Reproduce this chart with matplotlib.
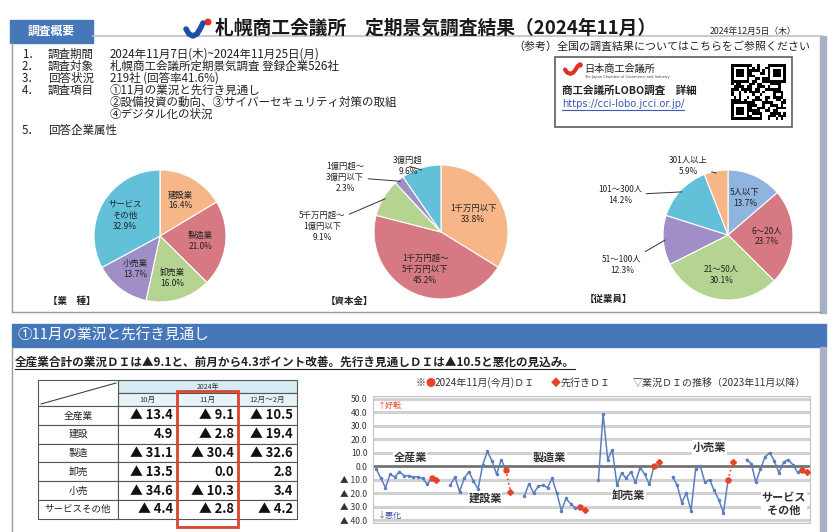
import numpy as np
import matplotlib
matplotlib.use('Agg')
import matplotlib.pyplot as plt
from matplotlib.patches import Rectangle, Circle

plt.rcParams['font.family'] = ['Noto Sans CJK JP', 'DejaVu Sans']

W, H = 834, 532

# ---------------- data ----------------
industry_labels = ['建設業', '製造業', '卸売業', '小売業', 'サービス\nその他']
industry_share = [16.4, 21.0, 16.0, 13.7, 32.9]
capital_labels = ['1千万円以下', '1千万円超～\n5千万円以下', '5千万円超～\n1億円以下', '1億円超～\n3億円以下', '3億円超']
capital_share = [33.8, 45.2, 9.1, 2.3, 9.6]
employee_labels = ['5人以下', '6～20人', '21～50人', '51～100人', '101～300人', '301人以上']
employee_share = [13.7, 23.7, 30.1, 12.3, 14.2, 5.9]

table_rows = ['全産業', '建設', '製造', '卸売', '小売', 'サービスその他']
table_cols = ['10月', '11月', '12月～2月']
di_oct = [-13.4, 4.9, -31.1, -13.5, -34.6, -4.4]
di_nov = [-9.1, -2.8, -30.4, 0.0, -10.3, -2.8]
di_outlook = [-10.5, -19.4, -32.6, 2.8, 3.4, -4.2]

chart_groups = ['全産業', '建設業', '製造業', '卸売業', '小売業', 'サービス\nその他']
# business DI, 2023/11 .. 2024/9 (then Oct / Nov from the table)
hist_all = [-2, -9, -16, -6, -8, -4, -7, -7, -8, -8, -9]
hist_con = [-14, -8, -19, -9, -4, -11, -17, 1, 11, 4, -6]
hist_man = [-22, -13, -20, -15, -14, -16, -9, -20, -33, -24, -28]
hist_whl = [-10, 39, 5, 12, -14, -5, -9, -4, -12, -1, -6]
hist_ret = [-8, -14, -27, -20, -33, -2, 0, -12, -10, -18, -25]
hist_srv = [5, 2, -12, -2, 7, 10, 4, -5, 3, 5, 1]
hist_series = [hist_all, hist_con, hist_man, hist_whl, hist_ret, hist_srv]
y_ticks = [50, 40, 30, 20, 10, 0, -10, -20, -30, -40]

# ---------------- colours ----------------
C_OR, C_RD, C_GR, C_PU, C_CY, C_LB = '#f6b688', '#d67983', '#b5d491', '#9f8fc6', '#62c1d8', '#8fb4e0'
BLUE_BAND = '#4677b8'
RED = '#e8412b'

fig = plt.figure(figsize=(W / 100, H / 100), dpi=100)
fig.patch.set_facecolor('white')
bg = fig.add_axes([0, 0, 1, 1])
bg.set_xlim(0, W)
bg.set_ylim(H, 0)
bg.axis('off')


def T(x, y, s, size=8, ha='left', va='center', **kw):
    return bg.text(x, y, s, fontsize=size, ha=ha, va=va, **kw)


# ---------------- header / section 1 frame ----------------
bg.add_patch(Rectangle((10, 20), 83, 23, color=BLUE_BAND))
T(51.5, 31.5, '調査概要', 8.5, ha='center', color='white', weight='bold')
bg.plot([93, 821], [36, 36], color='#b9c2d3', lw=1.2)
bg.plot([12, 12], [43, 312], color='#9a9a9a', lw=1)
bg.plot([12, 821], [312, 312], color='#9a9a9a', lw=1)
bg.add_patch(Rectangle((820, 36), 6, 277, color='#a7afc2'))

# title logo
lx = np.array([186, 189, 193, 197, 200, 203])
ly = np.array([29, 34, 36, 34, 29, 23])
bg.plot(lx, ly, color='#1f4fa0', lw=4, solid_capstyle='round')
bg.add_patch(Circle((208, 22), 2.8, color='#e03020'))
T(215, 28, '札幌商工会議所　定期景気調査結果（2024年11月）', 13.5, weight='bold', color='#1a1a1a')
T(710, 31, '2024年12月5日（木）', 6.3, color='#222222')

# survey outline
items = [
    ('1．', '調査期間', '2024年11月7日(木)~2024年11月25日(月)'),
    ('2．', '調査対象', '札幌商工会議所定期景気調査 登録企業526社'),
    ('3．', '回答状況', '219社 (回答率41.6%)'),
    ('4．', '調査項目', '①11月の業況と先行き見通し'),
    ('', '', '②設備投資の動向、③サイバーセキュリティ対策の取組'),
    ('', '', '④デジタル化の状況'),
]
ys = [54, 66, 78, 90, 102, 114]
for (n, lab, val), y in zip(items, ys):
    if n:
        T(22, y, n, 8.3, color='#222')
        T(48, y, lab, 8.3, color='#222')
    T(110, y, val, 8.3, color='#222')
T(22, 130, '5．', 8.3, color='#222')
T(48, 130, '回答企業属性', 8.3, color='#222')

# reference box
T(513, 47, '（参考）全国の調査結果についてはこちらをご参照ください', 7.9, color='#222')
bg.add_patch(Rectangle((555, 57), 237, 70, fill=False, ec='#6a6a6a', lw=1.3))
bg.plot((lx - 186) * 0.75 + 565, (ly - 23) * 0.6 + 66, color='#e03020', lw=3, solid_capstyle='round')
bg.add_patch(Circle((580, 65), 2.0, color='#e03020'))
T(584, 69, '日本商工会議所', 7.3, color='#222')
T(584, 77, 'The Japan Chamber of Commerce and Industry', 2.6, color='#444', family='DejaVu Sans')
T(562, 91, '商工会議所LOBO調査　詳細', 7.6, weight='bold', color='#222')
url_t = T(562, 104, 'https://cci-lobo.jcci.or.jp/', 7.2, color='#3b5bb5', family='DejaVu Sans')

# QR-like code derived deterministically from the URL text
url = 'https://cci-lobo.jcci.or.jp/'
seq = np.frombuffer((url * 3).encode(), dtype=np.uint8)
bits = np.unpackbits(seq)[:441].reshape(21, 21)
ii, jj = np.indices((21, 21))
qr = bits ^ ((ii + jj) % 2).astype(np.uint8)
for (r0, c0) in [(0, 0), (0, 14), (14, 0)]:
    qr[r0:r0 + 7, c0:c0 + 7] = 1
    qr[r0 + 1:r0 + 6, c0 + 1:c0 + 6] = 0
    qr[r0 + 2:r0 + 5, c0 + 2:c0 + 5] = 1
bg.imshow(qr, cmap='gray_r', extent=(731, 786, 120, 64), interpolation='nearest', aspect='auto', zorder=2)
bg.set_xlim(0, W)
bg.set_ylim(H, 0)


# ---------------- pies ----------------
def pie_axes(cx, cy, r):
    return fig.add_axes([(cx - r) / W, 1 - (cy + r) / H, 2 * r / W, 2 * r / H])


def draw_pie(cx, cy, r, vals, labels, colors, inside, outside):
    ax = pie_axes(cx, cy, r)
    wedges, _ = ax.pie(vals, colors=colors, startangle=90, counterclock=False,
                       wedgeprops=dict(edgecolor='white', linewidth=0.8))
    ax.set_xlim(-1, 1)
    ax.set_ylim(-1, 1)
    ax.axis('off')
    for i, w in enumerate(wedges):
        ang = np.deg2rad((w.theta1 + w.theta2) / 2)
        txt = f'{labels[i]}\n{vals[i]:.1f}%'
        if i in inside:
            rr = inside[i]
            ax.text(rr * np.cos(ang), rr * np.sin(ang), txt, ha='center', va='center',
                    fontsize=6, color='#222', linespacing=1.3)
        else:
            px, py = outside[i]
            ax.annotate(txt, xy=(0.97 * np.cos(ang), 0.97 * np.sin(ang)),
                        xytext=(px / W, 1 - py / H), textcoords='figure fraction',
                        ha='center', va='center', fontsize=6, color='#222', linespacing=1.3,
                        arrowprops=dict(arrowstyle='-', color='#333', lw=0.7, shrinkA=1, shrinkB=0))
    return ax


draw_pie(160, 236, 66, industry_share, industry_labels, [C_OR, C_RD, C_GR, C_PU, C_CY],
         {0: 0.62, 1: 0.62, 2: 0.66, 3: 0.62, 4: 0.62}, {})
draw_pie(441, 232, 67, capital_share, capital_labels, [C_OR, C_RD, C_GR, C_PU, C_CY],
         {0: 0.55, 1: 0.6}, {2: (322, 226), 3: (345, 177), 4: (408, 166)})
draw_pie(728, 235, 65, employee_share, employee_labels, [C_LB, C_RD, C_GR, C_PU, C_CY, C_OR],
         {0: 0.62, 1: 0.6, 2: 0.62}, {3: (622, 265), 4: (620, 195), 5: (688, 166)})
T(48, 301, '【業　種】', 6.8, weight='bold', color='#222')
T(326, 301, '【資本金】', 6.8, weight='bold', color='#222')
T(585, 299, '【従業員】', 6.8, weight='bold', color='#222')

# ---------------- section 2 ----------------
bg.add_patch(Rectangle((12, 324), 814, 23, color=BLUE_BAND))
T(18, 335.5, '①11月の業況と先行き見通し', 10.5, color='white')
bg.plot([12, 12], [347, 532], color='#9a9a9a', lw=1)
bg.add_patch(Rectangle((820, 347), 6, 185, color='#a7afc2'))
sub = T(15, 362, '全産業合計の業況ＤＩは▲9.1と、前月から4.3ポイント改善。先行き見通しＤＩは▲10.5と悪化の見込み。',
        8.4, weight='bold', color='#222')

# table
cx = [38, 118, 177, 238, 297]
ty0, ty1, ty2 = 380, 393, 406
rh = 18.8
bg.add_patch(Rectangle((cx[1], ty0), cx[4] - cx[1], ty1 - ty0, fc='#d6ebf3', ec='#555', lw=0.8))
T((cx[1] + cx[4]) / 2, (ty0 + ty1) / 2, '2024年', 5, ha='center', color='#333')
for k in range(3):
    bg.add_patch(Rectangle((cx[k + 1], ty1), cx[k + 2] - cx[k + 1], ty2 - ty1, fc='#e6f3f8', ec='#555', lw=0.8))
    T((cx[k + 1] + cx[k + 2]) / 2, (ty1 + ty2) / 2, table_cols[k], 5.5, ha='center', color='#333')
bg.add_patch(Rectangle((cx[0], ty0), cx[1] - cx[0], ty2 - ty0, fc='white', ec='#555', lw=0.8))
bg.plot([cx[0] + 3, cx[1] - 2], [ty2 - 2, ty0 + 3], color='#444', lw=0.8)


def fmt(v):
    return f'▲ {abs(v):.1f}' if v < 0 else f'{v:.1f}'


for r, name in enumerate(table_rows):
    y0 = ty2 + r * rh
    for k in range(4):
        bg.add_patch(Rectangle((cx[k], y0), cx[k + 1] - cx[k], rh, fc='white', ec='#555', lw=0.8))
    T((cx[0] + cx[1]) / 2, y0 + rh / 2, name, 7 if r < 5 else 6.8, ha='center', color='#222')
    for k, arr in enumerate([di_oct, di_nov, di_outlook]):
        T(cx[k + 2] - 4, y0 + rh / 2, fmt(arr[r]), 9.3, ha='right', weight='bold', color='#111')
bg.add_patch(Rectangle((cx[2], 391), cx[3] - cx[2], 136, fill=False, ec='#d9442f', lw=2))

# legend line
T(416, 383, '※', 7.2, color='#333')
T(426, 383, '●', 7.2, color=RED)
T(435, 383, '2024年11月(今月)ＤＩ', 7.2, color='#333')
T(551, 383, '◆', 7.2, color=RED)
T(561, 383, '先行きＤＩ', 7.2, color='#333')
T(633, 383, '▽業況ＤＩの推移（2023年11月以降）', 7.2, color='#333')

# line chart
ax = fig.add_axes([373 / W, 1 - 522.7 / H, 437 / W, 126.4 / H])
ax.set_xlim(-0.7, 93.7)
ax.set_ylim(-42, 52)
for v in y_ticks:
    ax.axhline(v, color='#d2d2d2', lw=2.2, zorder=0)
ax.axhline(0, color='#6e6e6e', lw=1.8, zorder=1)
for s in ax.spines.values():
    s.set_color('#c4c4c4')
    s.set_linewidth(0.8)
ax.set_xticks([])
ax.set_yticks(y_ticks)
ax.set_yticklabels([f'{v:.1f}' if v >= 0 else f'▲ {abs(v):.1f}' for v in y_ticks], fontsize=6.2, color='#333')
ax.tick_params(axis='y', length=0, pad=4)

for g in range(6):
    xs = g * 16 + np.arange(13)
    ys_ = list(hist_series[g]) + [di_oct[g], di_nov[g]]
    ax.plot(xs, ys_, color='#5a7ec0', lw=1.1, marker='o', ms=1.5, zorder=3)
    ax.plot([xs[-1], xs[-1] + 1], [di_nov[g], di_outlook[g]], color=RED, ls=':', lw=1.2, zorder=4)
    ax.plot(xs[-1], di_nov[g], 'o', color=RED, ms=3.6, zorder=5)
    ax.plot(xs[-1] + 1, di_outlook[g], 'D', color=RED, ms=3.0, zorder=5)

label_pos = [(7.3, 6.5), (23.5, -24), (37.5, 6.5), (54.5, -21.5), (72, 14), (88, -28)]
for name, (x, y) in zip(chart_groups, label_pos):
    ax.text(x, y, name, fontsize=8, ha='center', va='center', color='#333', weight='bold', linespacing=1.0,
            bbox=dict(fc='white', ec='none', pad=0.6), zorder=2)
ax.text(0.012, 0.93, '↑好転', transform=ax.transAxes, fontsize=5.8, color=RED, va='center')
ax.text(0.012, 0.06, '↓悪化', transform=ax.transAxes, fontsize=5.8, color='#3050a0', va='center')

# underlines
fig.canvas.draw()
inv = bg.transData.inverted()
for t, col, dy in [(sub, '#222', 6.5), (url_t, '#3b5bb5', 5.5)]:
    bb = t.get_window_extent()
    (x0, _), (x1, _) = inv.transform([(bb.x0, bb.y0), (bb.x1, bb.y0)])
    yy = t.get_position()[1] + dy
    bg.plot([x0, x1], [yy, yy], color=col, lw=0.8)

fig.savefig('out.png', dpi=100, facecolor='white')
